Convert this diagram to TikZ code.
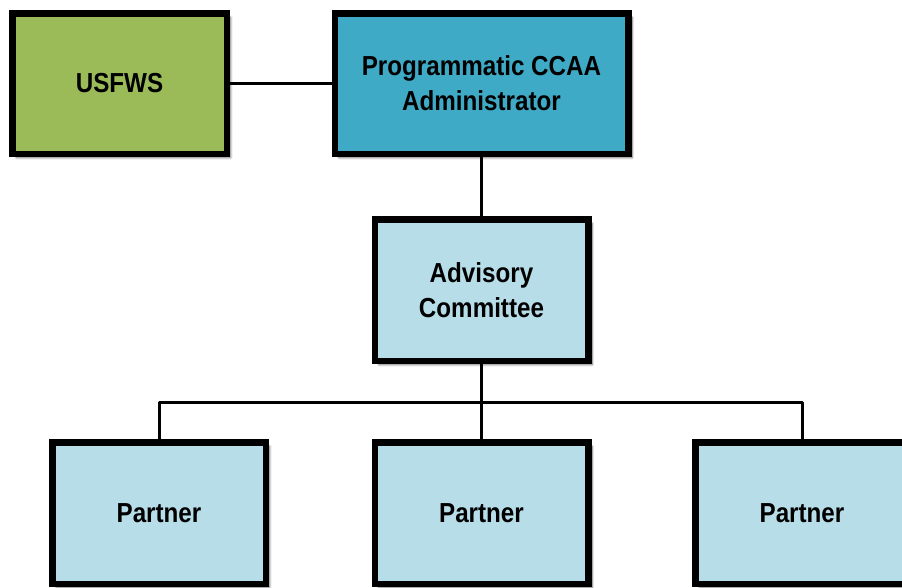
\documentclass[tikz,border=0pt]{standalone}
\usepackage{fontspec}
\setmainfont{Liberation Sans}[FakeStretch=0.88]
\usetikzlibrary{shadows.blur}
\definecolor{boxgreen}{HTML}{9BBB59}
\definecolor{boxteal}{HTML}{3FAAC6}
\definecolor{boxlight}{HTML}{B7DDE8}
\begin{document}
\begin{tikzpicture}[x=1pt,y=-1pt,
  orgbox/.style={draw=black, line width=6.5pt, rectangle, align=center,
    font=\fontsize{27.5}{35}\selectfont\bfseries, text=black,
    minimum width=213.5pt, minimum height=141.5pt, inner sep=0pt,
    blur shadow={shadow xshift=4pt, shadow yshift=-4pt, shadow blur steps=6, shadow opacity=55}},
  conn/.style={draw=black, line width=3pt, line join=round}]
\useasboundingbox (0,0) rectangle (902,587);
\node[orgbox, fill=boxgreen, minimum width=214.5pt, minimum height=140.5pt] (usfws) at (119.5,83.5) {USFWS};
\node[orgbox, fill=boxteal, minimum width=293.5pt, minimum height=140.5pt] (admin) at (481.5,83.5) {Programmatic CCAA\\Administrator};
\node[orgbox, fill=boxlight] (adv) at (481.5,290) {Advisory\\Committee};
\node[orgbox, fill=boxlight] (p1) at (159,513) {Partner};
\node[orgbox, fill=boxlight] (p2) at (481.5,513) {Partner};
\node[orgbox, fill=boxlight] (p3) at (802,513) {Partner};
\coordinate (bus) at (481.5,402);
\draw[conn] (usfws.east) -- (admin.west);
\draw[conn] (admin.south) -- (adv.north);
\draw[conn] (adv.south) -- (p2.north);
\draw[conn] (p1.north) |- (bus) -| (p3.north);
\end{tikzpicture}
\end{document}
